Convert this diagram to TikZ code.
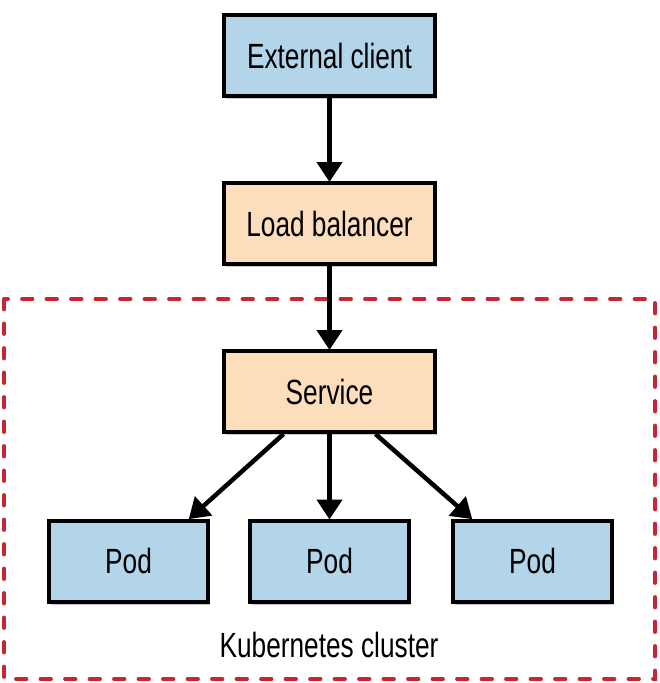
\documentclass[tikz,border=0pt]{standalone}
\usepackage{fontspec}
\setmainfont[FakeStretch=0.75]{Liberation Sans}
\usetikzlibrary{arrows.meta,shadows}
\definecolor{boxblue}{RGB}{179,213,233}
\definecolor{boxpeach}{RGB}{252,222,188}
\definecolor{clusterred}{RGB}{200,38,52}
\tikzset{
  box/.style={draw=black, line width=4pt, minimum width=211pt, minimum height=81pt, inner sep=0pt,
    font=\fontsize{35}{40}\selectfont,
    drop shadow={shadow xshift=2pt, shadow yshift=-3pt, opacity=0.35, fill=black!60}},
  podbox/.style={box, minimum width=159pt},
  arr/.style={line width=4.5pt, -{Triangle[length=20pt,width=25pt]}, shorten >=-1pt},
}
\begin{document}
\begin{tikzpicture}[x=1pt,y=-1pt]
\useasboundingbox (0,0) rectangle (659,683);
\node[box, fill=boxblue] (ext) at (329.5,55.5) {External client};
\node[box, fill=boxpeach] (lb) at (329.5,223.5) {Load balancer};
\node[box, fill=boxpeach] (svc) at (329.5,391.5) {Service};
\node[podbox, fill=boxblue] (pod1) at (128.5,561) {Pod};
\node[podbox, fill=boxblue] (pod2) at (329.5,561) {Pod};
\node[podbox, fill=boxblue] (pod3) at (532.5,561) {Pod};
\draw[clusterred, line width=3.8pt, dash pattern=on 10.5pt off 14pt, line cap=round]
  (4,299) rectangle (655,679);
\node[font=\fontsize{35}{40}\selectfont] (lbl) at (329,645) {Kubernetes cluster};
\draw[arr] (ext.south) -- (lb.north);
\draw[arr] (lb.south) -- (svc.north);
\draw[arr] ([xshift=-46pt]svc.south) -- ([xshift=61pt]pod1.north);
\draw[arr] (svc.south) -- (pod2.north);
\draw[arr] ([xshift=46pt]svc.south) -- ([xshift=-61pt]pod3.north);
\end{tikzpicture}
\end{document}
